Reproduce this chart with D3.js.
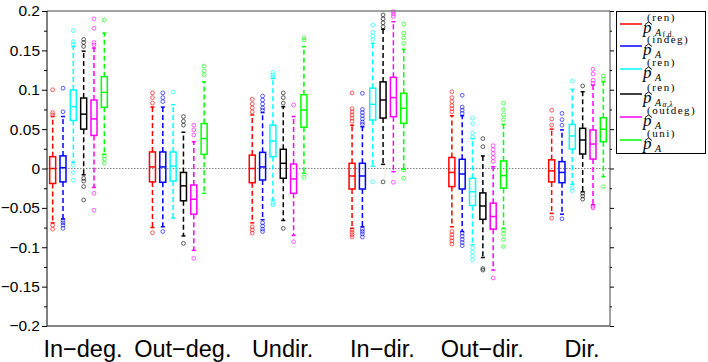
<!DOCTYPE html>
<html>
<head>
<meta charset="utf-8">
<script src="https://cdn.jsdelivr.net/npm/d3@7"></script>
<style>
  body { margin: 0; background: #fff; }
  svg { display: block; }
</style>
</head>
<body>
<div id="chart"></div>
<script>
// categories on the x axis
const categories = ["In\u2212deg.", "Out\u2212deg.", "Undir.", "In\u2212dir.", "Out\u2212dir.", "Dir."];

// series, in legend order
const seriesNames = ["renFd", "indeg", "ren", "renAL", "outdeg", "uni"];
const seriesColors = ["#ff0000", "#0000ff", "#00ffff", "#000000", "#ff00ff", "#00ff00"];

// box stats per category: [lower whisker, q1, median, q3, upper whisker]
const renFdStats = [
  [-0.069, -0.019, 0.000, 0.015, 0.066],
  [-0.075, -0.017, 0.002, 0.021, 0.078],
  [-0.069, -0.018, 0.000, 0.017, 0.068],
  [-0.076, -0.026, -0.0095, 0.0066, 0.055],
  [-0.074, -0.023, -0.005, 0.014, 0.067],
  [-0.057, -0.017, -0.003, 0.011, 0.050]
];
const indegStats = [
  [-0.064, -0.017, 0.001, 0.016, 0.066],
  [-0.074, -0.0175, 0.002, 0.021, 0.078],
  [-0.065, -0.0146, 0.002, 0.0205, 0.071],
  [-0.074, -0.026, -0.0095, 0.0066, 0.053],
  [-0.080, -0.026, -0.007, 0.0117, 0.067],
  [-0.058, -0.018, -0.005, 0.0087, 0.049]
];
const renStats = [
  [0.008, 0.061, 0.0785, 0.0997, 0.155],
  [-0.063, -0.016, 0.003, 0.021, 0.081],
  [-0.040, 0.015, 0.035, 0.055, 0.1145],
  [0.003, 0.0616, 0.0815, 0.102, 0.159],
  [-0.097, -0.047, -0.0295, -0.0124, 0.038],
  [-0.020, 0.0248, 0.0413, 0.056, 0.1006]
];
const renALStats = [
  [-0.008, 0.050, 0.069, 0.0895, 0.149],
  [-0.0857, -0.041, -0.022, -0.005, 0.046],
  [-0.066, -0.0124, 0.0066, 0.0244, 0.0785],
  [0.0053, 0.064, 0.087, 0.110, 0.1768],
  [-0.113, -0.0645, -0.0476, -0.031, 0.016],
  [-0.0295, 0.0184, 0.0362, 0.051, 0.0975]
];
const outdegStats = [
  [-0.024, 0.042, 0.063, 0.087, 0.153],
  [-0.104, -0.058, -0.039, -0.021, 0.034],
  [-0.085, -0.0315, -0.0133, 0.0057, 0.066],
  [-0.004, 0.0658, 0.090, 0.1158, 0.1864],
  [-0.129, -0.077, -0.061, -0.044, 0.0023],
  [-0.046, 0.012, 0.0311, 0.0489, 0.106]
];
const uniStats = [
  [0.018, 0.0777, 0.0967, 0.1166, 0.172],
  [-0.0315, 0.018, 0.038, 0.057, 0.110],
  [-0.006, 0.0523, 0.0743, 0.0937, 0.1547],
  [-0.001, 0.0574, 0.0764, 0.0955, 0.1513],
  [-0.076, -0.025, -0.009, 0.0095, 0.056],
  [-0.0104, 0.034, 0.0498, 0.0645, 0.110]
];

// outliers per category
const renFdOutliers = [
  [0.100, 0.071, 0.068, -0.072, -0.077],
  [0.096, 0.090, 0.083, -0.0815],
  [0.088, 0.082, 0.077, 0.072, -0.074, -0.078, -0.082],
  [0.096, 0.076, 0.072, 0.068, 0.064, 0.060, -0.078, -0.081, -0.084, -0.087],
  [0.0975, 0.090, 0.085, 0.080, 0.076, 0.072, -0.080, -0.084, -0.088, -0.092, -0.096],
  [0.074, 0.063, 0.055, -0.063]
];
const indegOutliers = [
  [0.102, 0.072, -0.066, -0.069, -0.072, -0.076],
  [0.096, 0.090, 0.085, -0.080],
  [0.092, 0.087, 0.082, 0.077, 0.074, -0.069, -0.073, -0.077, -0.080],
  [0.0955, 0.075, 0.071, 0.067, 0.063, 0.059, 0.056, -0.077, -0.080, -0.083, -0.087],
  [0.093, 0.078, 0.074, 0.070, -0.082, -0.086, -0.090, -0.094, -0.098],
  [0.070, 0.062, 0.055, -0.064]
];
const renOutliers = [
  [0.175, 0.161, 0.158, 0.004, -0.005, -0.015],
  [0.097],
  [0.122, 0.119, 0.116, -0.044, -0.046],
  [0.182, 0.173, 0.168, 0.164, -0.017],
  [0.064, 0.057, 0.045, 0.040, -0.101, -0.106, -0.111, -0.116],
  [0.111, -0.024, -0.028]
];
const renALOutliers = [
  [0.164, 0.160, 0.155, -0.0125, -0.016, -0.023, -0.040],
  [0.066, 0.060, 0.055, -0.095],
  [0.096, 0.090, 0.083, -0.076],
  [0.195, 0.190, 0.185, 0.180, -0.017],
  [0.038, 0.0277, -0.127, -0.129],
  [0.1048, -0.0315, -0.035, -0.039]
];
const outdegOutliers = [
  [0.190, 0.178, 0.160, 0.157, -0.0315, -0.053],
  [0.055, 0.049, 0.0425, -0.114],
  [0.0806, -0.093],
  [0.199, 0.196, 0.193, -0.0175],
  [0.029, 0.024, 0.019, 0.014, 0.009, -0.139],
  [0.126, 0.120, 0.112, 0.108, -0.048, -0.050]
];
const uniOutliers = [
  [0.1886, 0.016, 0.012, 0.007],
  [0.130, 0.124, 0.119],
  [0.166, 0.163, -0.011],
  [0.1835, 0.172, 0.166, 0.159, -0.002, -0.0124],
  [0.083, 0.075, 0.068, 0.062, -0.078, -0.083, -0.090, -0.099],
  [0.1175, 0.113, -0.023]
];

const yTicks = [-0.2, -0.15, -0.1, -0.05, 0, 0.05, 0.1, 0.15, 0.2];

// legend labels: superscript and the small index under A
const legendSup = ["(ren)", "(indeg)", "(ren)", "(ren)", "(outdeg)", "(uni)"];
const legendSub = ["f.d.", "", "", "\u03b1,\u03bb", "", ""];

const allStats = [renFdStats, indegStats, renStats, renALStats, outdegStats, uniStats];
const allOutliers = [renFdOutliers, indegOutliers, renOutliers, renALOutliers, outdegOutliers, uniOutliers];

const width = 708, height = 362;
const plot = { left: 47, right: 610, top: 11, bottom: 326 };

const svg = d3.select("#chart").append("svg")
  .attr("width", width)
  .attr("height", height)
  .attr("viewBox", [0, 0, width, height]);

const y = d3.scaleLinear().domain([-0.2, 0.2]).range([plot.bottom, plot.top]);
const xGroup = d3.scalePoint().domain(categories).range([78.5, 577.5]);
const xSeries = d3.scaleBand().domain(seriesNames).range([-31, 31]);
const boxW = 6, capW = 4;

// zero reference line
svg.append("line")
  .attr("x1", plot.left).attr("x2", plot.right)
  .attr("y1", y(0)).attr("y2", y(0))
  .attr("stroke", "#808080")
  .attr("stroke-width", 1)
  .attr("stroke-dasharray", "1.5,1.5");

// boxes
seriesNames.forEach((name, si) => {
  const color = seriesColors[si];
  const g = svg.append("g").attr("class", "series-" + name);
  categories.forEach((cat, ci) => {
    const [lo, q1, med, q3, hi] = allStats[si][ci];
    const cx = xGroup(cat) + xSeries(name) + xSeries.bandwidth() / 2;
    const b = g.append("g");

    // dashed whiskers
    b.selectAll("line.whisker")
      .data([[q3, hi], [q1, lo]])
      .join("line")
      .attr("class", "whisker")
      .attr("x1", cx).attr("x2", cx)
      .attr("y1", d => y(d[0])).attr("y2", d => y(d[1]))
      .attr("stroke", color)
      .attr("stroke-width", 1.5)
      .attr("stroke-dasharray", "5,3");

    // whisker caps
    b.selectAll("line.cap")
      .data([hi, lo])
      .join("line")
      .attr("class", "cap")
      .attr("x1", cx - capW / 2).attr("x2", cx + capW / 2)
      .attr("y1", d => y(d)).attr("y2", d => y(d))
      .attr("stroke", color)
      .attr("stroke-width", 1.5);

    b.append("rect")
      .attr("x", cx - boxW / 2)
      .attr("y", y(q3))
      .attr("width", boxW)
      .attr("height", y(q1) - y(q3))
      .attr("fill", "none")
      .attr("stroke", color)
      .attr("stroke-width", 1.5);

    b.append("line")
      .attr("x1", cx - boxW / 2).attr("x2", cx + boxW / 2)
      .attr("y1", y(med)).attr("y2", y(med))
      .attr("stroke", color)
      .attr("stroke-width", 1.5);

    b.selectAll("circle")
      .data(allOutliers[si][ci])
      .join("circle")
      .attr("cx", cx)
      .attr("cy", d => y(d))
      .attr("r", 1.9)
      .attr("fill", "none")
      .attr("stroke", color)
      .attr("stroke-opacity", 0.7)
      .attr("stroke-width", 0.9);
  });
});

// frame
svg.append("line")
  .attr("x1", plot.left).attr("x2", plot.right)
  .attr("y1", plot.top).attr("y2", plot.top)
  .attr("stroke", "#444").attr("stroke-width", 1);
svg.append("line")
  .attr("x1", plot.left).attr("x2", plot.right)
  .attr("y1", plot.bottom).attr("y2", plot.bottom)
  .attr("stroke", "#888").attr("stroke-width", 2);

// left and right y axes with minor ticks
const minorTicks = d3.range(-0.175, 0.2, 0.05);
const axisFont = "'Liberation Sans', Arial, sans-serif";

const leftAxis = svg.append("g")
  .attr("transform", `translate(${plot.left},0)`)
  .call(d3.axisLeft(y).tickValues(yTicks).tickSize(5).tickPadding(2)
    .tickFormat(d => d3.format("")(d).replace("-", "\u2212")));
leftAxis.select(".domain").attr("stroke", "#000").attr("d", `M0,${plot.top}V${plot.bottom}`);
leftAxis.selectAll("text").attr("font-family", axisFont).attr("font-size", 15.5).attr("fill", "#000");

svg.append("g")
  .attr("transform", `translate(${plot.left},0)`)
  .call(d3.axisLeft(y).tickValues(minorTicks).tickSize(3).tickFormat(""))
  .call(a => a.select(".domain").remove());

const rightAxis = svg.append("g")
  .attr("transform", `translate(${plot.right},0)`)
  .call(d3.axisRight(y).tickValues(yTicks).tickSize(4).tickFormat(""));
rightAxis.select(".domain").attr("stroke", "#444").attr("d", `M0,${plot.top}V${plot.bottom}`);
svg.append("g")
  .attr("transform", `translate(${plot.right},0)`)
  .call(d3.axisRight(y).tickValues(minorTicks).tickSize(2).tickFormat(""))
  .call(a => a.select(".domain").remove());

// category labels, centred near the fourth box of each group
svg.append("g")
  .selectAll("text")
  .data(categories)
  .join("text")
  .attr("x", d => xGroup(d) + 4.5)
  .attr("y", 357)
  .attr("text-anchor", "middle")
  .attr("font-family", axisFont)
  .attr("font-size", 23.5)
  .text(d => d);

// legend
const rowY = [24, 46, 69, 94, 117, 140];
const serif = "'Liberation Serif', 'DejaVu Serif', serif";

const legend = svg.append("g");
legend.append("rect")
  .attr("x", 616.5).attr("y", 11.5)
  .attr("width", 89).attr("height", 142)
  .attr("fill", "#fff").attr("stroke", "#000").attr("stroke-width", 1);

seriesNames.forEach((name, i) => {
  const ly = rowY[i];
  const row = legend.append("g");
  row.append("line")
    .attr("x1", 620).attr("x2", 642)
    .attr("y1", ly).attr("y2", ly)
    .attr("stroke", seriesColors[i]).attr("stroke-width", 1.5);

  row.append("text")
    .attr("x", 643).attr("y", ly + 8.5)
    .attr("font-family", serif).attr("font-style", "italic").attr("font-size", 17)
    .text("p");
  // the hat over p
  row.append("path")
    .attr("d", `M645,${ly + 0.5}L648.5,${ly - 2}L652,${ly + 0.5}`)
    .attr("fill", "none").attr("stroke", "#000").attr("stroke-width", 0.9);
  row.append("text")
    .attr("x", 647).attr("y", ly - 3.5)
    .attr("font-family", serif).attr("font-size", 11)
    .attr("letter-spacing", 1.5)
    .text(legendSup[i]);
  row.append("text")
    .attr("x", 655).attr("y", ly + 11.5)
    .attr("font-family", serif).attr("font-style", "italic").attr("font-size", 10)
    .text("A");
  if (legendSub[i]) {
    row.append("text")
      .attr("x", 662.5).attr("y", ly + 13)
      .attr("font-family", serif).attr("font-size", 7.5)
      .attr("letter-spacing", 0.5)
      .attr("font-style", i === 3 ? "italic" : "normal")
      .text(legendSub[i]);
  }
});
</script>
</body>
</html>
